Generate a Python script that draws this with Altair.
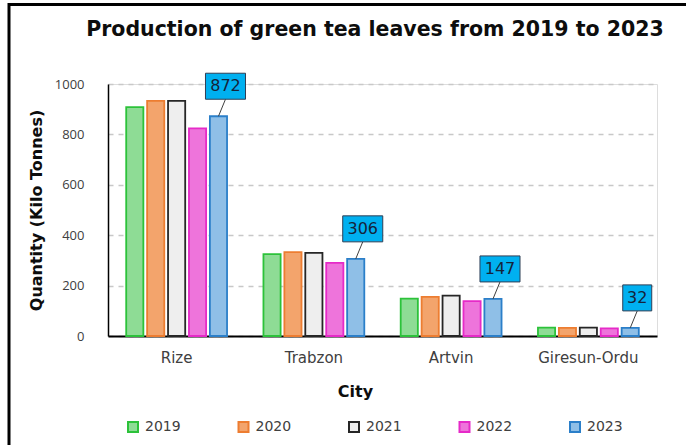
import altair as alt
import pandas as pd

# Green tea leaf production (kilo tonnes) per city and year
cities = ["Rize", "Trabzon", "Artvin", "Giresun-Ordu"]
years = ["2019", "2020", "2021", "2022", "2023"]
q2019 = [908, 325, 148, 33]
q2020 = [933, 333, 155, 32]
q2021 = [933, 330, 160, 33]
q2022 = [824, 290, 138, 30]
q2023 = [872, 306, 147, 32]

chart_title = "Production of green tea leaves from 2019 to 2023"

series = dict(zip(years, [q2019, q2020, q2021, q2022, q2023]))
rows = [
    {"City": c, "Year": y, "Quantity": v}
    for y, vals in series.items()
    for c, v in zip(cities, vals)
]
df = pd.DataFrame(rows)

# value callouts for the latest year
labels = df[df["Year"] == "2023"].copy()
labels["Digits"] = labels["Quantity"].astype(str).str.len().astype(str)

edge_colors = ["#2cc23a", "#ed7d31", "#262626", "#e62ac8", "#2b7fc9"]
fill_colors = ["#8edc95", "#f3a46c", "#eeeeee", "#ee74db", "#8fbfe7"]

# callout box outlines (unit = 13 px), shifted up-right of the bar top
box_paths = ["M-0.575,-3.31H1.655V-1.31H-0.575Z", "M-1,-3.31H2.08V-1.31H-1Z"]
leader_path = "M0,0L0.54,-1.31"

x_enc = alt.X(
    "City:N",
    sort=cities,
    scale=alt.Scale(domain=cities, paddingInner=0.25, paddingOuter=0.125),
    axis=alt.Axis(
        labelAngle=0,
        ticks=False,
        domainColor="black",
        domainWidth=2,
        labelPadding=14,
        labelFont="DejaVu Sans",
        labelFontSize=15,
        labelColor="#404040",
        title="City",
        titleFont="DejaVu Sans",
        titleFontSize=16,
        titleFontWeight="bold",
        titleColor="#0d0d0d",
        titleX=247,
        titleY=55,
        titleBaseline="middle",
        titleAlign="center",
    ),
)
xo_enc = alt.XOffset(
    "Year:N",
    scale=alt.Scale(domain=years, paddingInner=0.18, paddingOuter=0.05),
)
y_enc = alt.Y(
    "Quantity:Q",
    scale=alt.Scale(domain=[0, 1000]),
    axis=alt.Axis(
        values=[0, 200, 400, 600, 800, 1000],
        format="d",
        ticks=False,
        domainColor="black",
        domainWidth=1.5,
        labelPadding=24,
        labelFont="Open Sans",
        labelFontSize=13,
        labelColor="#404040",
        grid=True,
        gridDash=[5, 5],
        gridColor="#c8c8c8",
        gridWidth=1.5,
        title="Quantity (Kilo Tonnes)",
        titleFont="DejaVu Sans",
        titleFontSize=16,
        titleFontWeight="bold",
        titleColor="#0d0d0d",
        titleX=-72,
        titleY=126,
        titleBaseline="middle",
        titleAlign="center",
    ),
)

legend_spec = alt.Legend(
    title=None,
    orient="none",
    legendX=18,
    legendY=336,
    direction="horizontal",
    columns=5,
    columnPadding=53.5,
    symbolType="square",
    symbolSize=100,
    symbolStrokeWidth=2,
    labelFont="DejaVu Sans",
    labelFontSize=14,
    labelColor="#404040",
    labelOffset=5,
    padding=0,
)

bars = alt.Chart(df).mark_bar(strokeWidth=1.8).encode(
    x=x_enc,
    xOffset=xo_enc,
    y=y_enc,
    fill=alt.Fill("Year:N", scale=alt.Scale(domain=years, range=fill_colors), legend=legend_spec),
    stroke=alt.Stroke("Year:N", scale=alt.Scale(domain=years, range=edge_colors), legend=legend_spec),
)

leaders = alt.Chart(labels).mark_point(
    shape=leader_path, size=676, filled=False, color="#404040", strokeWidth=1, opacity=1
).encode(x=alt.X("City:N", sort=cities), xOffset="Year:N", y="Quantity:Q")

boxes = alt.Chart(labels).mark_point(
    size=676, filled=True, fill="#00b0f0", stroke="#2f3e55", strokeWidth=1, opacity=1
).encode(
    x=alt.X("City:N", sort=cities),
    xOffset="Year:N",
    y="Quantity:Q",
    shape=alt.Shape("Digits:N", scale=alt.Scale(domain=["2", "3"], range=box_paths), legend=None),
)

values_text = alt.Chart(labels).mark_text(
    dx=7, dy=-30, fontSize=16, font="DejaVu Sans", color="#15233a", baseline="middle", align="center"
).encode(x=alt.X("City:N", sort=cities), xOffset="Year:N", y="Quantity:Q", text="Quantity:Q")

# heading and outer frame edges (left and top), placed in the top/left padding
frame = pd.DataFrame({"edge": [0]})
heading = alt.Chart(frame).mark_text(
    text=chart_title,
    font="DejaVu Sans",
    fontSize=20.5,
    fontWeight="bold",
    color="#0d0d0d",
    align="center",
    baseline="middle",
).encode(x=alt.value(267), y=alt.value(-54))
left_edge = alt.Chart(frame).mark_rule(color="black", strokeWidth=3).encode(
    x=alt.value(-99), y=alt.value(-81), y2=alt.value(361)
)
top_edge = alt.Chart(frame).mark_rule(color="black", strokeWidth=3).encode(
    x=alt.value(-100), x2=alt.value(578), y=alt.value(-79.5)
)

chart = alt.layer(bars, leaders, boxes, values_text, heading, left_edge, top_edge).properties(
    width=549,
    height=252,
    autosize=alt.AutoSizeParams(type="none"),
    padding={"left": 108, "top": 84, "right": 29, "bottom": 109},
).configure_view(strokeWidth=0).configure(background="white")

chart.save("out.html", embed_options={"renderer": "svg", "actions": False})
